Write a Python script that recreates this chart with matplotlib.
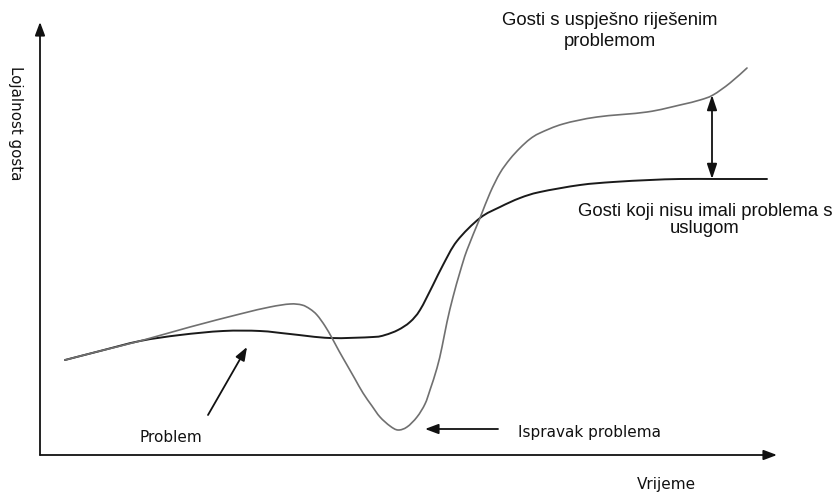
import matplotlib.pyplot as plt
import numpy as np
from matplotlib.path import Path
from matplotlib.patches import PathPatch

# time / loyalty values (arbitrary units)
base_t = [25, 60, 100, 140, 183, 220, 250, 290, 333, 345, 358, 370, 380, 393, 403,
          417, 440, 460, 480, 500, 540, 573, 610, 640, 680, 727]
base_y = [95, 104, 114, 120, 124, 124, 121, 117, 118, 120, 125, 133, 145, 170, 190,
          214, 237, 248, 257, 263, 270, 273, 275, 276, 276, 276]

prob_t = [25, 60, 100, 150, 200, 230, 250, 262, 270, 277, 285, 292, 299, 307, 315, 323,
          332, 340, 350, 358, 367, 377, 385, 390, 397, 402, 407, 413, 420, 427, 440,
          450, 460, 470, 480, 490, 500, 523, 557, 607, 640, 660, 673, 690, 707]
prob_y = [95, 104, 114, 128, 141, 148, 151, 150, 146, 140, 129, 117, 104, 90, 76, 62,
          49, 38, 29, 25, 28, 38, 51, 65, 87, 108, 133, 158, 183, 205, 237,
          262, 282, 296, 307, 316, 322, 331, 338, 343, 350, 355, 360, 372, 387]

gap_t = 672
gap_lo, gap_hi = 276, 360


def smooth_path(xs, ys):
    # bezier segments through the read points (catmull-rom handles)
    p = np.column_stack([xs, ys]).astype(float)
    verts = [p[0]]
    codes = [Path.MOVETO]
    n = len(p)
    for i in range(n - 1):
        p0 = p[max(i - 1, 0)]
        p1, p2 = p[i], p[i + 1]
        p3 = p[min(i + 2, n - 1)]
        c1 = p1 + (p2 - p0) / 6.0
        c2 = p2 - (p3 - p1) / 6.0
        verts += [c1, c2, p2]
        codes += [Path.CURVE4] * 3
    return Path(verts, codes)


fig = plt.figure(figsize=(8.37, 4.93), dpi=100)
ax = fig.add_axes([0, 0, 1, 1])
ax.set_xlim(-40, 797)
ax.set_ylim(-38, 455)
ax.axis("off")

head = dict(arrowstyle="-|>,head_length=0.8,head_width=0.3", color="#111111", lw=1.3,
            shrinkA=0, shrinkB=0)

# axes as arrows
ax.annotate("", xy=(737, 0), xytext=(0, 0), arrowprops=head)
ax.annotate("", xy=(0, 433), xytext=(0, 0), arrowprops=head)

ax.add_patch(PathPatch(smooth_path(base_t, base_y), fill=False, edgecolor="#1a1a1a",
                       lw=1.4, capstyle="round"))
ax.add_patch(PathPatch(smooth_path(prob_t, prob_y), fill=False, edgecolor="#707070",
                       lw=1.2, capstyle="round"))

# double arrow between curves
ax.annotate("", xy=(gap_t, gap_hi), xytext=(gap_t, gap_lo),
            arrowprops=dict(arrowstyle="<|-|>,head_length=0.9,head_width=0.3",
                            color="#111111", lw=1.3, shrinkA=0, shrinkB=0))

ax.annotate("", xy=(207, 108), xytext=(168, 40), arrowprops=head)
ax.annotate("", xy=(385, 26), xytext=(458, 26), arrowprops=head)

sans = ["Liberation Sans", "DejaVu Sans"]
ax.text(570, 424, "Gosti s uspješno riješenim\nproblemom", ha="center", va="center",
        multialignment="center", fontsize=13.3, family=sans, color="#111111",
        linespacing=1.3)
ax.text(665, 235, "Gosti koji nisu imali problema s\nuslugom", ha="center", va="center",
        multialignment="center", fontsize=13.3, family=sans, color="#111111",
        linespacing=1.05)

ax.text(-25, 332, "Lojalnost gosta", rotation=-90, ha="center", va="center",
        fontsize=10.8, color="#111111")
ax.text(131, 18, "Problem", ha="center", va="center", fontsize=11, color="#111111")
ax.text(478, 23, "Ispravak problema", ha="left", va="center", fontsize=11, color="#111111")
ax.text(626, -30, "Vrijeme", ha="center", va="center", fontsize=11, color="#111111")

fig.savefig("out.png", dpi=100)
